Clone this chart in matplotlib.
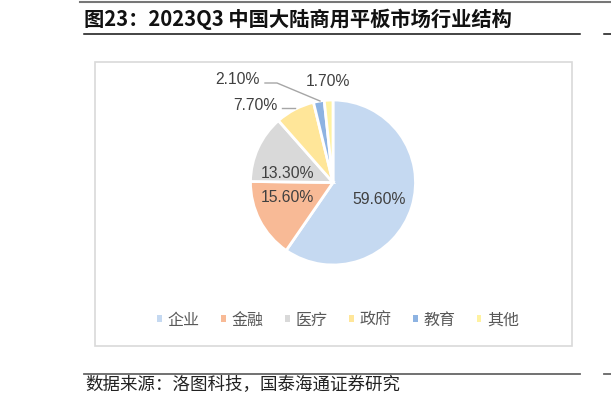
import matplotlib.pyplot as plt
from matplotlib.patches import Rectangle, Patch

plt.rcParams['font.family'] = ['Noto Sans CJK SC', 'DejaVu Sans']

categories = ['企业', '金融', '医疗', '政府', '教育', '其他']
shares = [59.6, 15.6, 13.3, 7.7, 2.1, 1.7]
colors = ['#C5D9F1', '#F8BA96', '#D9D9D9', '#FFE699', '#8DB3E2', '#FFF2A1']

title = '图23：2023Q3 中国大陆商用平板市场行业结构'
source = '数据来源：洛图科技，国泰海通证券研究'

W, H = 611, 407
fig = plt.figure(figsize=(W / 100, H / 100), dpi=100)
ax = fig.add_axes([0, 0, 1, 1])
ax.set_xlim(0, W)
ax.set_ylim(0, H)
ax.axis('off')


def py(y):
    # pixel row (from top) -> data y
    return H - y


# page lines
ax.plot([80, W], [py(1.5), py(1.5)], color='#777777', lw=1.5)
ax.plot([84, 580], [py(33.5), py(33.5)], color='#111111', lw=1.1)
ax.plot([604, W], [py(33.5), py(33.5)], color='#111111', lw=1.1)
ax.plot([84, 580], [py(373.5), py(373.5)], color='#666666', lw=1.3)
ax.plot([604, W], [py(373.5), py(373.5)], color='#666666', lw=1.3)

ax.text(84, py(19), title, fontsize=14.6, fontweight='bold', va='center', ha='left',
        color='#111111')
ax.text(85, py(385), source, fontsize=12.6, va='center', ha='left', color='#222222')

# chart frame
ax.add_patch(Rectangle((95, py(346)), 572 - 95, 346 - 62, fill=False,
                       edgecolor='#D9D9D9', lw=1.2))

wedges, _ = ax.pie(shares, colors=colors, startangle=90, counterclock=False,
                   center=(333, py(182.5)), radius=82.5,
                   wedgeprops=dict(edgecolor='white', linewidth=2))
ax.set_xlim(0, W)
ax.set_ylim(0, H)
ax.set_aspect('equal')

label_pos = [(379, 199), (287, 198), (287, 173), (255, 105), (237, 80), (328, 82)]
for v, (x, y) in zip(shares, label_pos):
    ax.text(x, py(y), f'{v:.2f}%', fontsize=11.3, family=['Liberation Sans'],
            color='#404040', ha='center', va='center')

# leader lines
ax.plot([282, 295], [py(108), py(108)], color='#A6A6A6', lw=1)
ax.plot([265, 277, 320], [py(83), py(83), py(101)], color='#A6A6A6', lw=1)

handles = [Patch(facecolor=c, edgecolor='none') for c in colors]
leg = ax.legend(handles, categories, loc='center', bbox_to_anchor=(338 / W, 1 - 320 / H),
                ncol=6, frameon=False, fontsize=11.5, handlelength=0.3, handleheight=0.3,
                handletextpad=0.35, columnspacing=1.35, borderaxespad=0)
for t in leg.get_texts():
    t.set_color('#595959')

fig.savefig('out.png', dpi=100)
